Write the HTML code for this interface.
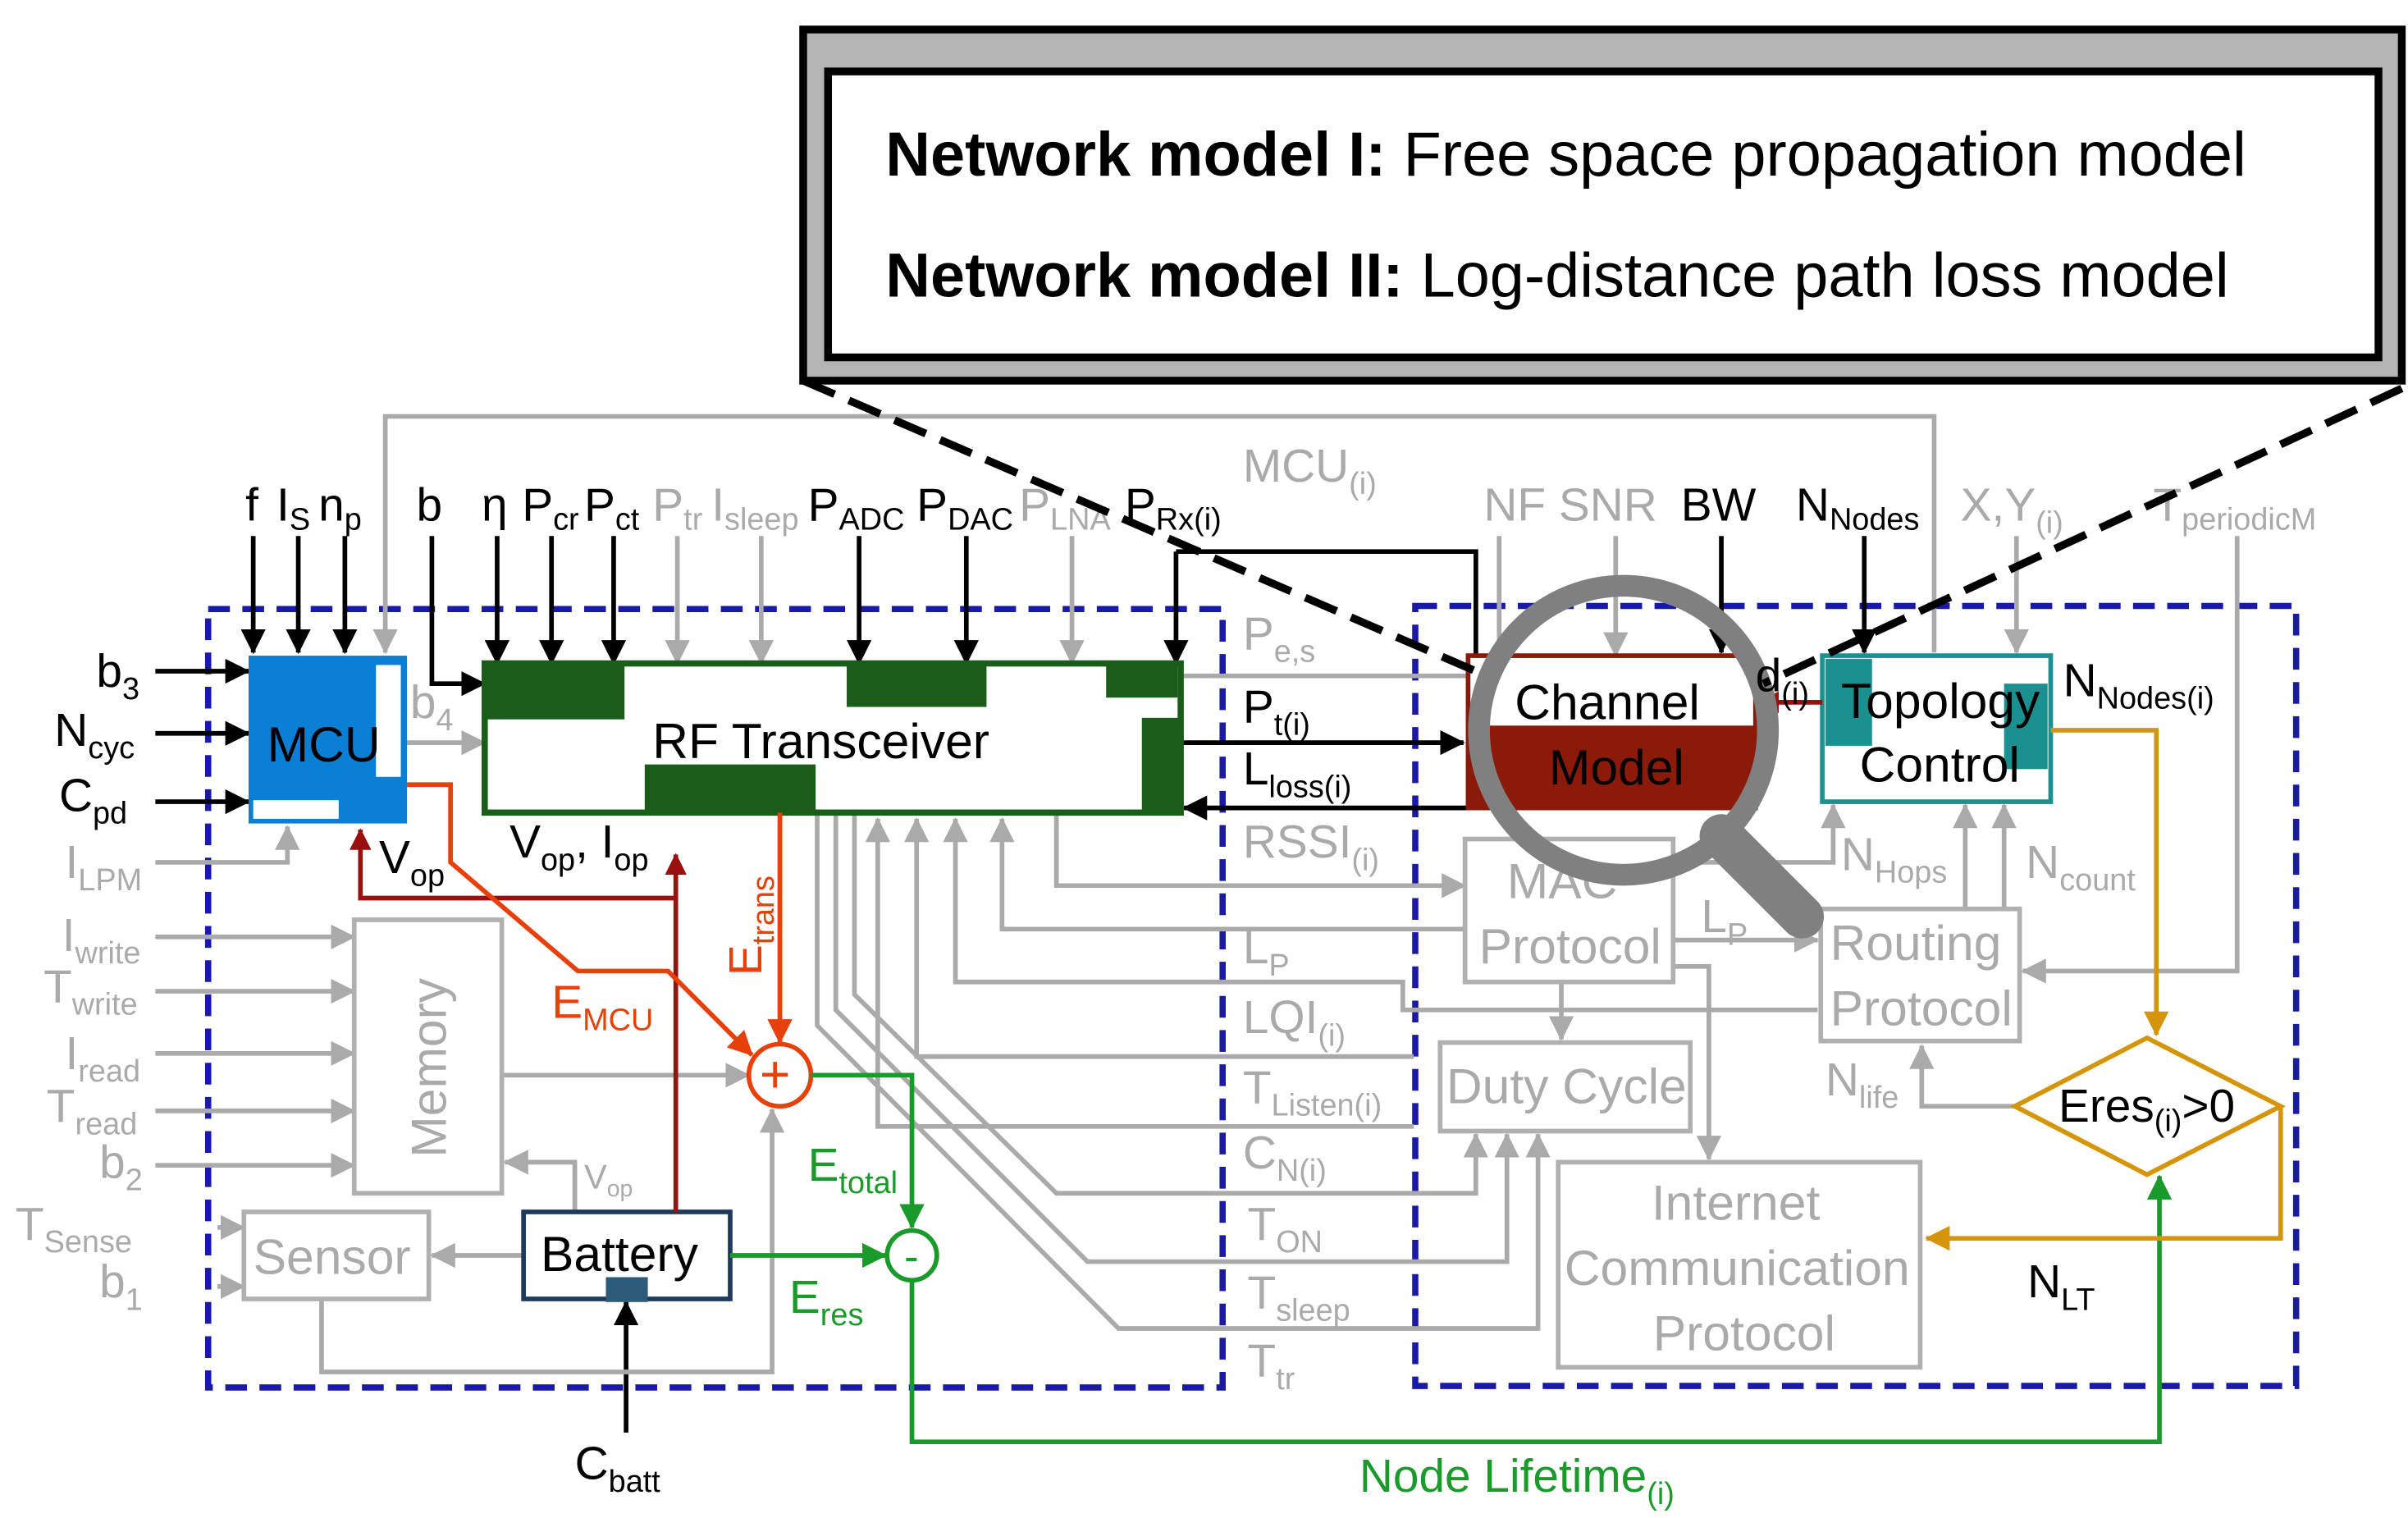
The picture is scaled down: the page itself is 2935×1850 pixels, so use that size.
<!DOCTYPE html>
<html><head><meta charset="utf-8"><style>
html,body{margin:0;padding:0;background:#fff;width:2935px;height:1850px;overflow:hidden}
svg{display:block}
text{font-family:"Liberation Sans",sans-serif;font-size:30px}
.g{fill:#aaa}.k{fill:#000}
.s{font-size:20px}
</style></head><body>
<svg width="2935" height="1850" viewBox="0 0 1550 977" preserveAspectRatio="none" xmlns="http://www.w3.org/2000/svg">
<defs>
<marker id="ak" markerWidth="10" markerHeight="10" refX="9" refY="5" orient="auto" markerUnits="userSpaceOnUse"><path d="M0,0 L10,5 L0,10z" fill="#000"/></marker>
<marker id="ag" markerWidth="16" markerHeight="16" refX="15" refY="8" orient="auto" markerUnits="userSpaceOnUse"><path d="M0,0 L16,8 L0,16z" fill="#aaa"/></marker>
<marker id="akb" markerWidth="16" markerHeight="16" refX="15" refY="8" orient="auto" markerUnits="userSpaceOnUse"><path d="M0,0 L16,8 L0,16z" fill="#000"/></marker>
<marker id="ar" markerWidth="14" markerHeight="14" refX="13" refY="7" orient="auto" markerUnits="userSpaceOnUse"><path d="M0,0 L14,7 L0,14z" fill="#9a1010"/></marker>
<marker id="ao" markerWidth="16" markerHeight="16" refX="15" refY="8" orient="auto" markerUnits="userSpaceOnUse"><path d="M0,0 L16,8 L0,16z" fill="#e8400a"/></marker>
<marker id="agr" markerWidth="16" markerHeight="16" refX="15" refY="8" orient="auto" markerUnits="userSpaceOnUse"><path d="M0,0 L16,8 L0,16z" fill="#1a9a2a"/></marker>
<marker id="au" markerWidth="16" markerHeight="16" refX="15" refY="8" orient="auto" markerUnits="userSpaceOnUse"><path d="M0,0 L16,8 L0,16z" fill="#d4950a"/></marker>
</defs>

<!-- top box -->
<rect x="517" y="19" width="1029" height="226" fill="#b4b4b4" stroke="#000" stroke-width="5"/>
<rect x="533" y="46" width="998" height="184" fill="#fff" stroke="#000" stroke-width="5"/>
<text x="570" y="113" style="font-size:40px"><tspan font-weight="bold">Network model I:</tspan> Free space propagation model</text>
<text x="570" y="191" style="font-size:40px"><tspan font-weight="bold">Network model II:</tspan> Log-distance path loss model</text>

<!-- dashed blue boxes -->
<rect x="134" y="392" width="653" height="501" fill="none" stroke="#1a1aa8" stroke-width="4" stroke-dasharray="14,8"/>
<rect x="911" y="390" width="567" height="502" fill="none" stroke="#1a1aa8" stroke-width="4" stroke-dasharray="14,8"/>

<!-- gray top loop -->
<polyline points="1245,420 1245,268 248,268 248,420" fill="none" stroke="#aaa" stroke-width="3" marker-end="url(#ag)"/>

<!-- top inputs -->
<g font-size="30">
<text x="158" y="335">f</text><text x="178" y="335">I<tspan class="s" dy="6">S</tspan></text><text x="205" y="335">n<tspan class="s" dy="6">p</tspan></text>
<text x="268" y="335">b</text><text x="310" y="335">η</text>
<text x="336" y="335">P<tspan class="s" dy="6">cr</tspan></text><text x="376" y="335">P<tspan class="s" dy="6">ct</tspan></text>
<text x="420" y="335" class="g">P<tspan class="s" dy="6">tr</tspan></text><text x="458" y="335" class="g">I<tspan class="s" dy="6">sleep</tspan></text>
<text x="520" y="335">P<tspan class="s" dy="6">ADC</tspan></text><text x="590" y="335">P<tspan class="s" dy="6">DAC</tspan></text>
<text x="656" y="335" class="g">P<tspan class="s" dy="6">LNA</tspan></text><text x="724" y="335">P<tspan class="s" dy="6">Rx(i)</tspan></text>
<text x="800" y="310" class="g">MCU<tspan class="s" dy="8">(i)</tspan></text>
<text x="955" y="335" class="g">NF SNR</text><text x="1082" y="335">BW</text>
<text x="1156" y="335">N<tspan class="s" dy="6">Nodes</tspan></text>
<text x="1262" y="335" class="g">X,Y<tspan class="s" dy="8">(i)</tspan></text>
<text x="1386" y="335" class="g">T<tspan class="s" dy="6">periodicM</tspan></text>
</g>
<g stroke="#000" stroke-width="3" fill="none">
<line x1="163" y1="345" x2="163" y2="420" marker-end="url(#akb)"/>
<line x1="192" y1="345" x2="192" y2="420" marker-end="url(#akb)"/>
<line x1="222" y1="345" x2="222" y2="420" marker-end="url(#akb)"/>
<polyline points="278,345 278,440 312,440" marker-end="url(#akb)"/>
<line x1="320" y1="345" x2="320" y2="427" marker-end="url(#akb)"/>
<line x1="355" y1="345" x2="355" y2="427" marker-end="url(#akb)"/>
<line x1="395" y1="345" x2="395" y2="427" marker-end="url(#akb)"/>
<line x1="553" y1="345" x2="553" y2="427" marker-end="url(#akb)"/>
<line x1="622" y1="345" x2="622" y2="427" marker-end="url(#akb)"/>
<line x1="757" y1="355" x2="757" y2="427" marker-end="url(#akb)"/>
<polyline points="757,355 950,355 950,422"/>
<line x1="1108" y1="345" x2="1108" y2="420" marker-end="url(#akb)"/>
<line x1="1200" y1="345" x2="1200" y2="420" marker-end="url(#akb)"/>
<line x1="100" y1="432" x2="160" y2="432" marker-end="url(#akb)"/>
<line x1="100" y1="472" x2="160" y2="472" marker-end="url(#akb)"/>
<line x1="100" y1="516" x2="160" y2="516" marker-end="url(#akb)"/>
<line x1="760" y1="478" x2="942" y2="478" marker-end="url(#akb)"/>
<line x1="945" y1="520" x2="762" y2="520" marker-end="url(#akb)"/>
<line x1="403" y1="922" x2="403" y2="838" marker-end="url(#akb)"/>
</g>
<g stroke="#aaa" stroke-width="3" fill="none">
<line x1="436" y1="345" x2="436" y2="427" marker-end="url(#ag)"/>
<line x1="490" y1="345" x2="490" y2="427" marker-end="url(#ag)"/>
<line x1="690" y1="345" x2="690" y2="427" marker-end="url(#ag)"/>
<line x1="965" y1="345" x2="965" y2="422"/>
<polyline points="1040,345 1040,422" marker-end="url(#ag)"/>
<line x1="1298" y1="345" x2="1298" y2="420" marker-end="url(#ag)"/>
<polyline points="1440,345 1440,625 1302,625" marker-end="url(#ag)"/>
<line x1="262" y1="478" x2="312" y2="478" marker-end="url(#ag)"/>
<polyline points="100,555 185,555 185,532" marker-end="url(#ag)"/>
<line x1="100" y1="603" x2="228" y2="603" marker-end="url(#ag)"/>
<line x1="100" y1="638" x2="228" y2="638" marker-end="url(#ag)"/>
<line x1="100" y1="678" x2="228" y2="678" marker-end="url(#ag)"/>
<line x1="100" y1="715" x2="228" y2="715" marker-end="url(#ag)"/>
<line x1="100" y1="750" x2="228" y2="750" marker-end="url(#ag)"/>
<line x1="140" y1="790" x2="157" y2="790" marker-end="url(#ag)"/>
<line x1="140" y1="828" x2="157" y2="828" marker-end="url(#ag)"/>
<line x1="323" y1="692" x2="482" y2="692" marker-end="url(#ag)"/>
<polyline points="207,836 207,883 497,883 497,714" marker-end="url(#ag)"/>
<line x1="337" y1="808" x2="278" y2="808" marker-end="url(#ag)"/>
<polyline points="370,780 370,748 325,748" marker-end="url(#ag)"/>
<line x1="760" y1="435" x2="945" y2="435"/>
<polyline points="680,523 680,570 943,570" marker-end="url(#ag)"/>
<polyline points="943,598 645,598 645,527" marker-end="url(#ag)"/>
<polyline points="1170,650 903,650 903,632 615,632 615,527" marker-end="url(#ag)"/>
<polyline points="910,680 590,680 590,527" marker-end="url(#ag)"/>
<polyline points="910,725 565,725 565,527" marker-end="url(#ag)"/>
<polyline points="550,523 550,640 680,768 950,768 950,730" marker-end="url(#ag)"/>
<polyline points="538,523 538,650 700,812 970,812 970,730" marker-end="url(#ag)"/>
<polyline points="526,523 526,660 720,855 990,855 990,730" marker-end="url(#ag)"/>
<polyline points="1005,632 1005,669" marker-end="url(#ag)"/>
<polyline points="1077,622 1100,622 1100,746" marker-end="url(#ag)"/>
<line x1="1077" y1="605" x2="1170" y2="605" marker-end="url(#ag)"/>
<polyline points="1077,555 1180,555 1180,518" marker-end="url(#ag)"/>
<line x1="1265" y1="585" x2="1265" y2="518" marker-end="url(#ag)"/>
<line x1="1290" y1="585" x2="1290" y2="518" marker-end="url(#ag)"/>
<polyline points="1297,712 1237,712 1237,673" marker-end="url(#ag)"/>
</g>

<!-- MCU -->
<rect x="160" y="422" width="102" height="108" fill="#0a7fd4"/>
<rect x="163" y="515" width="55" height="12" fill="#fff"/>
<rect x="242" y="428" width="16" height="72" fill="#fff"/>
<text x="172" y="490" style="font-size:32px">MCU</text>

<!-- RF -->
<rect x="312" y="427" width="448" height="96" fill="#fff" stroke="#1a5c1a" stroke-width="4"/>
<g fill="#1a5c1a">
<rect x="312" y="427" width="90" height="36"/><rect x="545" y="427" width="90" height="28"/>
<rect x="712" y="427" width="46" height="22"/><rect x="735" y="462" width="25" height="60"/>
<rect x="415" y="492" width="110" height="30"/></g>
<text x="420" y="488" style="font-size:32px">RF Transceiver</text>

<!-- Channel -->
<rect x="945" y="422" width="185" height="98" fill="#fff" stroke="#8b1a0a" stroke-width="3"/>
<rect x="945" y="467" width="185" height="53" fill="#8b1a0a"/>
<text x="975" y="463" style="font-size:32px">Channel</text>
<text x="997" y="505" style="font-size:32px">Model</text>

<!-- Topology -->
<rect x="1173" y="422" width="147" height="94" fill="#fff" stroke="#1a9090" stroke-width="3"/>
<rect x="1175" y="424" width="30" height="56" fill="#1a9090"/><rect x="1290" y="440" width="28" height="55" fill="#1a9090"/>
<text x="1185" y="462" style="font-size:32px">Topology</text>
<text x="1197" y="503" style="font-size:32px">Control</text>

<!-- gray boxes -->
<g fill="none" stroke="#b0b0b0" stroke-width="3">
<rect x="943" y="540" width="134" height="92"/>
<rect x="1172" y="585" width="128" height="85"/>
<rect x="927" y="671" width="161" height="57"/>
<rect x="1003" y="748" width="233" height="132"/>
<rect x="228" y="592" width="95" height="176"/>
<rect x="157" y="780" width="119" height="56"/>
</g>
<g class="g" style="font-size:32px">
<text x="970" y="578" style="font-size:32px" class="g">MAC</text>
<text x="952" y="620" style="font-size:32px" class="g">Protocol</text>
<text x="1178" y="618" style="font-size:32px" class="g">Routing</text>
<text x="1178" y="660" style="font-size:32px" class="g">Protocol</text>
<text x="931" y="710" style="font-size:32px" class="g">Duty Cycle</text>
<text x="1063" y="785" style="font-size:32px" class="g">Internet</text>
<text x="1007" y="827" style="font-size:32px" class="g">Communication</text>
<text x="1064" y="869" style="font-size:32px" class="g">Protocol</text>
<text x="163" y="820" style="font-size:32px" class="g">Sensor</text>
<text x="0" y="0" style="font-size:32px" class="g" transform="translate(287,745) rotate(-90)">Memory</text>
</g>

<!-- Battery -->
<rect x="337" y="780" width="133" height="56" fill="#fff" stroke="#1e3a5a" stroke-width="3"/>
<rect x="390" y="822" width="27" height="16" fill="#2e5a7a"/>
<text x="348" y="818" style="font-size:32px">Battery</text>

<!-- dark red -->
<g stroke="#9a1010" stroke-width="3" fill="none">
<line x1="435" y1="780" x2="435" y2="550" marker-end="url(#ar)"/>
<polyline points="435,578 232,578 232,534" marker-end="url(#ar)"/>
<line x1="1173" y1="452" x2="1132" y2="452" marker-end="url(#ar)"/>
</g>
<!-- orange -->
<g stroke="#e8400a" stroke-width="3" fill="none">
<polyline points="262,505 290,505 290,555 372,625 430,625 484,679" marker-end="url(#ao)"/>
<line x1="502" y1="523" x2="502" y2="671" marker-end="url(#ao)"/>
<circle cx="502" cy="692" r="20"/>
</g>
<text x="489" y="703" style="font-size:34px;fill:#e8400a">+</text>
<!-- green -->
<g stroke="#1a9a2a" stroke-width="3" fill="none">
<polyline points="522,692 587,692 587,790" marker-end="url(#agr)"/>
<line x1="470" y1="808" x2="570" y2="808" marker-end="url(#agr)"/>
<circle cx="587" cy="808" r="16"/>
<polyline points="587,824 587,928 1390,928 1390,757" marker-end="url(#agr)"/>
</g>
<text x="582" y="818" style="font-size:28px;fill:#1a9a2a">-</text>
<!-- gold -->
<g stroke="#d4950a" stroke-width="3" fill="none">
<polyline points="1320,470 1388,470 1388,666" marker-end="url(#au)"/>
<polyline points="1468,712 1468,797 1240,797" marker-end="url(#au)"/>
<polygon points="1297,712 1382,668 1468,712 1382,756"/>
</g>
<text x="1325" y="722" style="font-size:30px">E<tspan dy="0">res</tspan><tspan class="s" dy="6">(i)</tspan><tspan dy="-6">&gt;0</tspan></text>

<!-- magnifier -->
<circle cx="1045" cy="470" r="93" fill="none" stroke="#808080" stroke-width="14"/>
<line x1="1108" y1="538" x2="1160" y2="590" stroke="#808080" stroke-width="28" stroke-linecap="round"/>

<!-- dashed black -->
<line x1="517" y1="245" x2="950" y2="432" stroke="#000" stroke-width="5" stroke-dasharray="22,10"/>
<line x1="1546" y1="250" x2="1135" y2="440" stroke="#000" stroke-width="5" stroke-dasharray="22,10"/>

<!-- labels -->
<g>
<text x="62" y="442">b<tspan class="s" dy="8">3</tspan></text>
<text x="35" y="480">N<tspan class="s" dy="8">cyc</tspan></text>
<text x="38" y="522">C<tspan class="s" dy="8">pd</tspan></text>
<text x="42" y="565" class="g">I<tspan class="s" dy="8">LPM</tspan></text>
<text x="40" y="612" class="g">I<tspan class="s" dy="8">write</tspan></text>
<text x="28" y="645" class="g">T<tspan class="s" dy="8">write</tspan></text>
<text x="42" y="688" class="g">I<tspan class="s" dy="8">read</tspan></text>
<text x="30" y="722" class="g">T<tspan class="s" dy="8">read</tspan></text>
<text x="64" y="758" class="g">b<tspan class="s" dy="8">2</tspan></text>
<text x="10" y="798" class="g">T<tspan class="s" dy="8">Sense</tspan></text>
<text x="64" y="835" class="g">b<tspan class="s" dy="8">1</tspan></text>
<text x="264" y="462" class="g">b<tspan class="s" dy="8">4</tspan></text>
<text x="244" y="562" style="fill:#000">V<tspan class="s" dy="8">op</tspan></text>
<text x="328" y="552">V<tspan class="s" dy="8">op</tspan><tspan dy="-8">, I</tspan><tspan class="s" dy="8">op</tspan></text>
<text x="376" y="765" class="g" style="font-size:22px">V<tspan class="s" style="font-size:15px" dy="5">op</tspan></text>
<text x="355" y="655" style="fill:#e8400a">E<tspan class="s" dy="8">MCU</tspan></text>
<text x="0" y="0" style="fill:#e8400a" transform="translate(490,628) rotate(-90)">E<tspan class="s" dy="8">trans</tspan></text>
<text x="520" y="760" style="fill:#1a9a2a">E<tspan class="s" dy="8">total</tspan></text>
<text x="508" y="845" style="fill:#1a9a2a">E<tspan class="s" dy="8">res</tspan></text>
<text x="370" y="952">C<tspan class="s" dy="8">batt</tspan></text>
<text x="875" y="960" style="fill:#1a9a2a">Node Lifetime<tspan class="s" dy="8">(i)</tspan></text>
<text x="800" y="418" class="g">P<tspan class="s" dy="8">e,s</tspan></text>
<text x="800" y="465">P<tspan class="s" dy="8">t(i)</tspan></text>
<text x="800" y="505">L<tspan class="s" dy="8">loss(i)</tspan></text>
<text x="800" y="552" class="g">RSSI<tspan class="s" dy="8">(i)</tspan></text>
<text x="800" y="620" class="g">L<tspan class="s" dy="8">P</tspan></text>
<text x="800" y="665" class="g">LQI<tspan class="s" dy="8">(i)</tspan></text>
<text x="800" y="710" class="g">T<tspan class="s" dy="8">Listen(i)</tspan></text>
<text x="800" y="752" class="g">C<tspan class="s" dy="8">N(i)</tspan></text>
<text x="803" y="798" class="g">T<tspan class="s" dy="8">ON</tspan></text>
<text x="803" y="842" class="g">T<tspan class="s" dy="8">sleep</tspan></text>
<text x="803" y="886" class="g">T<tspan class="s" dy="8">tr</tspan></text>
<text x="1130" y="445">d<tspan class="s" dy="8">(i)</tspan></text>
<text x="1328" y="448">N<tspan class="s" dy="8">Nodes(i)</tspan></text>
<text x="1185" y="560" class="g">N<tspan class="s" dy="8">Hops</tspan></text>
<text x="1304" y="565" class="g">N<tspan class="s" dy="8">count</tspan></text>
<text x="1095" y="600" class="g">L<tspan class="s" dy="8">P</tspan></text>
<text x="1175" y="705" class="g">N<tspan class="s" dy="8">life</tspan></text>
<text x="1305" y="835">N<tspan class="s" dy="8">LT</tspan></text>
</g>
</svg>
</body></html>
